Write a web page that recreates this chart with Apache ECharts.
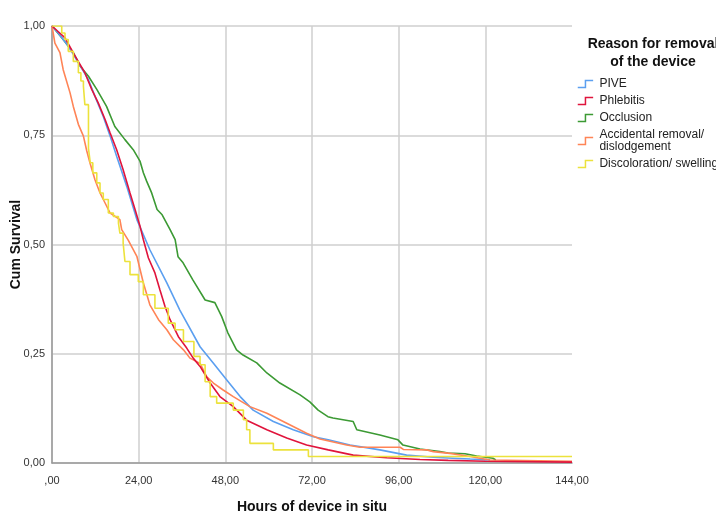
<!DOCTYPE html>
<html>
<head>
<meta charset="utf-8">
<script src="https://cdn.jsdelivr.net/npm/echarts@6/dist/echarts.min.js"></script>
<style>
  html, body { margin: 0; padding: 0; background: #fff; }
  #chart { width: 716px; height: 511px; }
</style>
</head>
<body>
<div id="chart"></div>
<script>
// Kaplan-Meier curves: [hours, cum survival]
const pive = [[0,1],[1.7,0.984],[4.5,0.954],[7.3,0.916],[10.1,0.877],[11.9,0.839],[14.2,0.793],[16.1,0.748],[17.9,0.702],[20.7,0.633],[23.5,0.557],[27.1,0.488],[31.8,0.412],[35.4,0.35],[41,0.266],[44.7,0.228],[48.4,0.19],[52.1,0.152],[55.7,0.121],[61.3,0.095],[66.8,0.076],[72.4,0.06],[76.5,0.053],[82.5,0.041],[90.8,0.03],[98.2,0.018],[105.6,0.013],[111,0.011],[115.8,0.009],[121.3,0.007]];
const phlebitis = [[0,1],[3.6,0.973],[6.4,0.931],[9.1,0.893],[11,0.855],[12.8,0.824],[14.7,0.786],[16.1,0.755],[17.9,0.717],[19.7,0.671],[21.6,0.618],[23,0.58],[24.4,0.541],[25.3,0.511],[26.7,0.469],[28.5,0.435],[29.9,0.396],[31.3,0.358],[32.7,0.328],[35,0.289],[37.3,0.263],[39.1,0.24],[41,0.221],[43.8,0.183],[46.5,0.152],[50.2,0.129],[53.9,0.098],[59.5,0.076],[65,0.057],[70.5,0.041],[76.5,0.03],[83.4,0.018],[92.7,0.012],[101.9,0.008],[109.7,0.006],[120,0.004],[144,0.002]];
const occlusion = [[0,1],[3.1,0.969],[5.9,0.939],[7.8,0.908],[10.1,0.885],[12.4,0.855],[15.1,0.816],[17.4,0.77],[20.2,0.74],[22.5,0.717],[24.4,0.69],[25.3,0.664],[26.2,0.645],[27.6,0.618],[29.1,0.58],[30.5,0.568],[32.7,0.534],[34.1,0.511],[34.9,0.472],[36.3,0.458],[39,0.419],[42.4,0.373],[45.1,0.367],[47,0.335],[48.7,0.298],[51.1,0.259],[52.9,0.247],[56.7,0.229],[59.5,0.206],[63.1,0.183],[68.7,0.156],[71.4,0.14],[73.7,0.121],[76.4,0.106],[77.8,0.103],[83.4,0.095],[84.4,0.076],[90.8,0.064],[95.8,0.053],[97.2,0.041],[101.9,0.032],[107.4,0.026],[109.7,0.023],[114.4,0.021],[117.6,0.016],[122.1,0.011],[122.9,0.007]];
const accidental = [[0,1],[0.8,0.961],[2.2,0.939],[3.1,0.9],[5,0.847],[5.9,0.816],[7.3,0.775],[8.7,0.748],[9.6,0.715],[10.5,0.687],[11.9,0.648],[13.3,0.618],[14.7,0.595],[16.1,0.572],[18.8,0.557],[19.3,0.534],[21.1,0.51],[23.5,0.473],[25.3,0.412],[27.1,0.362],[29.5,0.328],[31.8,0.305],[33.6,0.282],[36.4,0.259],[38.2,0.24],[41,0.228],[42.8,0.198],[44.7,0.183],[47.4,0.167],[50.2,0.152],[54.8,0.129],[59.5,0.114],[65,0.091],[70.5,0.068],[74.2,0.055],[81.6,0.041],[85.3,0.036],[96.4,0.036],[97.3,0.031],[103.8,0.03],[105.6,0.026],[110.2,0.022],[115.8,0.015],[121.3,0.007],[144,0.004]];
// yellow one is a clear staircase: [event time, survival after it]
const discoloration = [[0,1],[2.7,0.984],[3.6,0.969],[4.5,0.942],[5.9,0.919],[7.3,0.893],[8,0.874],[8.7,0.862],[9.1,0.82],[10.1,0.72],[10.6,0.687],[11.3,0.664],[12.4,0.641],[13.3,0.618],[14.2,0.603],[15.6,0.572],[17,0.564],[18.4,0.549],[18.8,0.526],[19.7,0.503],[20.2,0.461],[21.6,0.431],[23.9,0.415],[25.3,0.385],[28.5,0.354],[32.2,0.32],[34.1,0.305],[36.4,0.278],[39.3,0.244],[41,0.225],[42.4,0.186],[43.8,0.152],[45.6,0.137],[50.2,0.121],[53,0.099],[53.9,0.076],[54.8,0.045],[61.3,0.03],[71,0.015],[144,0.015]];

const seriesNames = ['PIVE', 'Phlebitis', 'Occlusion', 'Accidental removal/ dislodgement', 'Discoloration/ swelling'];
const seriesColors = ['#5b9ff0', '#e0143c', '#3c9a34', '#ff8456', '#ece23c'];

const comma = v => v.toFixed(2).replace('.', ',');

const chart = echarts.init(document.getElementById('chart'));
const dataSets = [pive, phlebitis, occlusion, accidental, discoloration];

chart.setOption({
  animation: false,
  color: seriesColors,
  textStyle: { fontFamily: 'Liberation Sans, Arial, sans-serif' },
  grid: { left: 52, right: 144, top: 26, bottom: 48, containLabel: false, outerBoundsMode: 'none' },
  title: {
    text: 'Reason for removal\nof the device',
    left: 648, top: 30,
    textAlign: 'center',
    textStyle: { fontSize: 14, fontWeight: 'bold', color: '#111', lineHeight: 18 }
  },
  legend: {
    orient: 'vertical',
    left: 572, top: 73,
    icon: 'path://M0,10 L11,10 L11,0 L22,0',
    itemWidth: 22, itemHeight: 7, itemGap: 5,
    textStyle: { fontSize: 12, color: '#222', padding: [0, 0, 0, -2] },
    data: seriesNames.map((n, i) => ({
      name: n,
      itemStyle: { color: 'rgba(0,0,0,0)', borderColor: seriesColors[i], borderWidth: 1.5 }
    })),
    formatter: n => n === 'Accidental removal/ dislodgement' ? 'Accidental removal/\ndislodgement' : n
  },
  xAxis: {
    type: 'value', min: 0, max: 144, interval: 24,
    name: 'Hours of device in situ', nameLocation: 'middle', nameGap: 37,
    nameTextStyle: { fontSize: 14, fontWeight: 'bold', color: '#111' },
    axisLine: { lineStyle: { color: '#999', width: 1.5 } },
    axisTick: { show: false },
    axisLabel: { fontSize: 11, color: '#333', margin: 12, formatter: v => v === 0 ? ',00' : comma(v) },
    splitLine: { lineStyle: { color: ['#cfcfcf', '#cfcfcf', '#cfcfcf', '#cfcfcf', '#cfcfcf', '#cfcfcf', 'rgba(0,0,0,0)'], width: 1.5 } }
  },
  yAxis: {
    type: 'value', min: 0, max: 1, interval: 0.25,
    name: 'Cum Survival', nameLocation: 'middle', nameGap: 29, nameMoveOverlap: false,
    nameTextStyle: { fontSize: 14, fontWeight: 'bold', color: '#111' },
    axisLine: { show: true, lineStyle: { color: '#999', width: 1.5 } },
    axisTick: { show: false },
    axisLabel: { fontSize: 11, color: '#333', margin: 7, formatter: comma },
    splitLine: { lineStyle: { color: '#cfcfcf', width: 1.5 } }
  },
  series: seriesNames.map((name, i) => ({
    name: name,
    type: 'line',
    data: dataSets[i],
    step: i === 4 ? 'end' : false,
    symbol: 'none',
    lineStyle: { width: 1.6 },
    z: [3, 4, 2, 3, 5][i]
  }))
});
</script>
</body>
</html>
